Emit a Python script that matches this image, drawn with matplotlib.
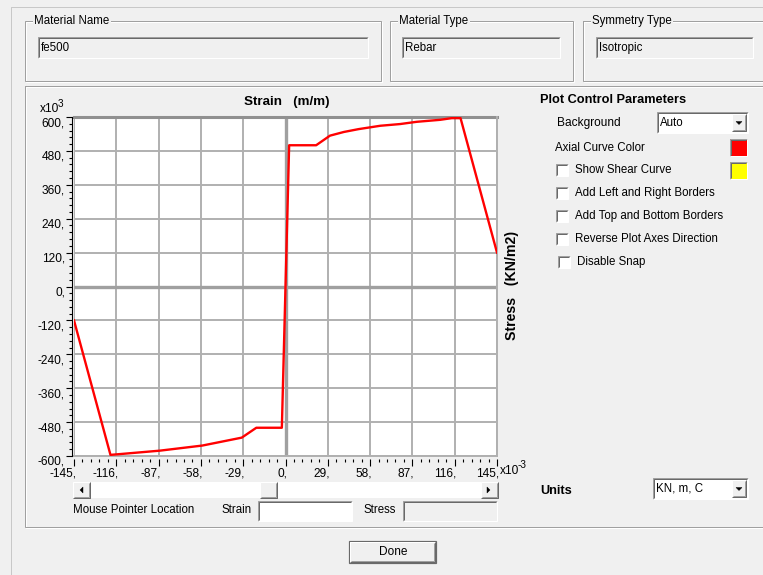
import matplotlib
matplotlib.use('Agg')
import matplotlib.pyplot as plt
from matplotlib.patches import Rectangle, Polygon
from matplotlib.ticker import MultipleLocator

W, H = 763, 575

# axial stress-strain curve of the rebar
# strain in x10^-3 (m/m), stress in x10^3 (KN/m2)
strain = [-145, -120, -113, -86, -57, -30, -20, -2.5, 0,
          2.5, 21, 30.5, 40, 50, 65, 78.5, 90, 106, 114, 120, 145]
stress = [-120, -596, -593, -581, -563, -535, -500, -500, 0,
          500, 500, 534, 547, 557, 569, 575, 583, 590, 596, 596, 120]

x_ticks = [-145, -116, -87, -58, -29, 0, 29, 58, 87, 116, 145]
y_ticks = [-600, -480, -360, -240, -120, 0, 120, 240, 360, 480, 600]

check_items = ['Show Shear Curve', 'Add Left and Right Borders', 'Add Top and Bottom Borders',
               'Reverse Plot Axes Direction', 'Disable Snap']
check_rows = [170, 193, 216, 239, 262]

plt.rcParams['font.family'] = ['Liberation Sans', 'DejaVu Sans']
plt.rcParams['font.size'] = 8.3

BG = '#f0f0f0'
PX = 0.72  # one pixel in points

fig = plt.figure(figsize=(W / 100, H / 100), dpi=100, facecolor=BG)
ui = fig.add_axes([0, 0, 1, 1])
ui.set_xlim(0, W)
ui.set_ylim(H, 0)
ui.axis('off')


def line(xs, ys, c, lw=1):
    ui.plot(xs, ys, color=c, lw=lw * PX, solid_capstyle='butt')


def etched(x0, y0, x1, y1):
    ui.add_patch(Rectangle((x0 + 1, y0 + 1), x1 - x0, y1 - y0, fill=False, ec='white', lw=PX))
    ui.add_patch(Rectangle((x0, y0), x1 - x0, y1 - y0, fill=False, ec='#a0a0a0', lw=PX))


def sunken(x0, y0, x1, y1, fc):
    ui.add_patch(Rectangle((x0, y0), x1 - x0, y1 - y0, fc=fc, ec='none'))
    line([x0, x0, x1], [y1, y0, y0], '#a0a0a0')
    line([x0 + 1, x0 + 1, x1 - 1], [y1 - 1, y0 + 1, y0 + 1], '#696969')
    line([x0, x1, x1], [y1, y1, y0], 'white')


def raised(x0, y0, x1, y1, fc=BG):
    ui.add_patch(Rectangle((x0, y0), x1 - x0, y1 - y0, fc=fc, ec='none'))
    line([x0, x0, x1], [y1, y0, y0], 'white')
    line([x0 + 1, x1 - 1, x1 - 1], [y1 - 1, y1 - 1, y0 + 1], '#a0a0a0')
    line([x0, x1, x1], [y1, y1, y0], '#696969')


def tri(cx, cy, d):
    s = 3
    if d == 'l':
        pts = [(cx + 2, cy - s), (cx + 2, cy + s), (cx - 1, cy)]
    elif d == 'r':
        pts = [(cx - 2, cy - s), (cx - 2, cy + s), (cx + 1, cy)]
    else:
        pts = [(cx - s, cy - 1), (cx + s, cy - 1), (cx, cy + 2)]
    ui.add_patch(Polygon(pts, closed=True, fc='black', ec='black', lw=0.3))


def combo(x0, y0, x1, y1, text):
    sunken(x0, y0, x1, y1, 'white')
    raised(x1 - 16, y0 + 2, x1 - 2, y1 - 2)
    tri(x1 - 9, (y0 + y1) / 2, 'd')
    ui.text(x0 + 3, (y0 + y1) / 2, text, va='center', ha='left')


# window frame
line([11, 11, W], [H, 7, 7], '#c8c8c8')

# header group boxes
groups = [(25, 381, 'Material Name', 'fe500', 38, 368),
          (390, 573, 'Material Type', 'Rebar', 402, 560),
          (583, 775, 'Symmetry Type', 'Isotropic', 596, 753)]
for gx0, gx1, label, value, fx0, fx1 in groups:
    etched(gx0, 21, gx1, 81)
    ui.text(gx0 + 9, 21, label, va='center', ha='left',
            bbox=dict(fc=BG, ec='none', pad=1))
    sunken(fx0, 37, fx1, 58, BG)
    ui.text(fx0 + 3, 48, value, va='center', ha='left')

# plot panel
etched(25, 86, 775, 527)

ui.text(287, 102, 'Strain   (m/m)', weight='bold', fontsize=9.6, ha='center', va='center')
ui.text(512, 285, 'Stress   (KN/m2)', weight='bold', fontsize=10.2, ha='center', va='center',
        rotation=90)
ui.text(40, 109, 'x10', va='center', ha='left', fontsize=8.6)
ui.text(58, 104, '3', va='center', ha='left', fontsize=7.2)
ui.text(500, 471, 'x10', va='center', ha='left', fontsize=8.6)
ui.text(518, 465, '-3', va='center', ha='left', fontsize=7.2)

# plot
ax = fig.add_axes([74 / W, 1 - 456 / H, (497 - 74) / W, (456 - 117) / H])
ax.set_facecolor('white')
ax.plot(strain, stress, color='#ff0000', lw=1.7, zorder=5)
ax.set_xlim(-145, 145)
ax.set_ylim(-600, 600)
ax.set_xticks(x_ticks)
ax.set_yticks(y_ticks)
ax.xaxis.set_minor_locator(MultipleLocator(5.8))
ax.yaxis.set_minor_locator(MultipleLocator(24))
ax.tick_params(labelbottom=False, labelleft=False)
ax.tick_params(axis='y', which='major', direction='out', length=4, width=0.8, color='black')
ax.tick_params(axis='y', which='minor', direction='out', length=2.2, width=0.8, color='black')
ax.tick_params(axis='x', which='major', direction='out', length=5, width=0.8, color='black')
ax.tick_params(axis='x', which='minor', direction='out', length=2.5, width=0.8, color='black')
for s in ['top', 'right', 'bottom']:
    ax.spines[s].set_visible(False)
ax.spines['bottom'].set_position(('outward', 2.2))
ax.spines['left'].set_position(('outward', 1.5))
ax.spines['left'].set_linewidth(0.8)
ax.grid(True, which='major', color='#b0b0b0', lw=1.4)
ax.axhline(0, color='#a0a0a0', lw=2.4, zorder=2)
ax.axvline(0, color='#a0a0a0', lw=2.4, zorder=2)
ax.axhline(600, color='#909090', lw=2.2, zorder=2, clip_on=False)
ax.axhline(-600, color='#b0b0b0', lw=1.4, zorder=2, clip_on=False)
ax.axvline(145, color='#b0b0b0', lw=1.4, zorder=2, clip_on=False)
ax.set_axisbelow(True)

for t in y_ticks:
    ax.annotate(f'{t},', xy=(0, t), xycoords=('axes fraction', 'data'), xytext=(-9, -6),
                textcoords='offset pixels', ha='right', va='center', fontsize=8.6,
                annotation_clip=False)
for t in x_ticks:
    ax.annotate(f'{t},', xy=(t, 0), xycoords=('data', 'axes fraction'), xytext=(2, -18),
                textcoords='offset pixels', ha='right', va='center', fontsize=8.6,
                annotation_clip=False)

# scrollbar
ui.add_patch(Rectangle((73, 482), 425, 16, fc='white', ec='none'))
raised(73, 482, 90, 498)
tri(81, 490, 'l')
raised(481, 482, 498, 498)
tri(489, 490, 'r')
raised(260, 482, 277, 498)

# mouse pointer fields
ui.text(73, 510, 'Mouse Pointer Location', va='center', ha='left')
ui.text(222, 510, 'Strain', va='center', ha='left')
sunken(258, 501, 352, 521, 'white')
ui.text(363, 510, 'Stress', va='center', ha='left')
sunken(403, 501, 497, 521, BG)

# done button
ui.add_patch(Rectangle((349, 541), 87, 22, fill=False, ec='#696969', lw=1.2 * PX))
raised(350, 542, 435, 562)
ui.text(393, 552, 'Done', va='center', ha='center', fontsize=8.6)

# plot control parameters
ui.text(540, 100, 'Plot Control Parameters', weight='bold', va='center', ha='left', fontsize=9.2)
ui.text(557, 123, 'Background', va='center', ha='left', fontsize=8.6)
combo(657, 112, 748, 133, 'Auto')
ui.text(555, 148, 'Axial Curve Color', va='center', ha='left')
sunken(730, 139, 747, 156, '#ff0000')
sunken(730, 162, 747, 179, '#ffff00')
for label, yy in zip(check_items, check_rows):
    cx = 558 if label == 'Disable Snap' else 556
    sunken(cx, yy - 6, cx + 12, yy + 6, 'white')
    ui.text(cx + 19, yy, label, va='center', ha='left')

ui.text(540, 491, 'Units', weight='bold', va='center', ha='left', fontsize=9.2)
combo(653, 478, 748, 499, 'KN, m, C')

fig.savefig('out.png', dpi=100, facecolor=BG)
